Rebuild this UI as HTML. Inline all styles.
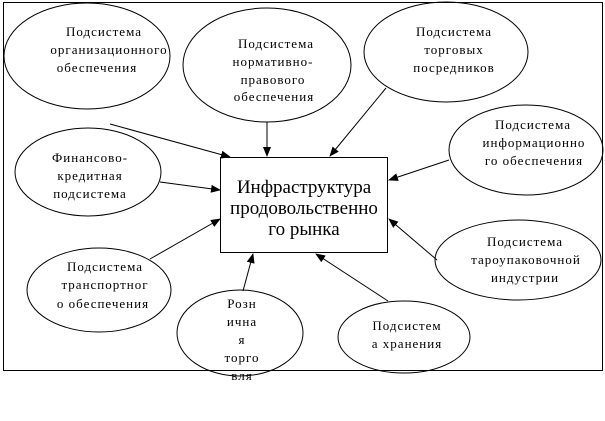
<!DOCTYPE html>
<html><head><meta charset="utf-8"><style>
html,body{margin:0;padding:0;background:#fff;}
svg{display:block;}
text{font-family:"Liberation Serif","DejaVu Serif",serif;font-size:13px;letter-spacing:1px;fill:#000;text-anchor:middle;}
.b{font-size:19px;letter-spacing:0;}
</style></head><body>
<svg width="605" height="421" viewBox="0 0 605 421" xmlns="http://www.w3.org/2000/svg">
<defs><marker id="a" markerWidth="10" markerHeight="8" refX="9" refY="4" orient="auto" markerUnits="userSpaceOnUse"><path d="M0,0 L10,4 L0,8 z" fill="#000"/></marker></defs>
<g fill="#fff" stroke="#000" stroke-width="1">
<ellipse cx="87" cy="56" rx="83" ry="53"/>
<ellipse cx="267" cy="65" rx="84" ry="57"/>
<ellipse cx="446" cy="52" rx="82" ry="50"/>
<ellipse cx="526" cy="150" rx="77" ry="45"/>
<ellipse cx="88" cy="172" rx="73" ry="44"/>
<ellipse cx="99" cy="290" rx="72" ry="42"/>
<ellipse cx="240" cy="333" rx="63" ry="43"/>
<ellipse cx="404" cy="337" rx="66" ry="36"/>
<ellipse cx="518" cy="260" rx="83" ry="40"/>
<rect x="220.5" y="157.5" width="167" height="95"/>
</g>
<g stroke="#000" stroke-width="1" marker-end="url(#a)">
<line x1="110" y1="124" x2="230" y2="157"/>
<line x1="267" y1="122" x2="267" y2="156"/>
<line x1="386" y1="88" x2="330" y2="156"/>
<line x1="449" y1="160" x2="389" y2="180"/>
<line x1="160" y1="182" x2="220" y2="190"/>
<line x1="150" y1="259" x2="220" y2="219"/>
<line x1="243" y1="291" x2="253" y2="254"/>
<line x1="388" y1="301" x2="316" y2="254"/>
<line x1="437" y1="260" x2="389" y2="219"/>
</g>
<text x="104" y="36">Подсистема</text>
<text x="109" y="54">организационного</text>
<text x="97" y="72">обеспечения</text>
<text x="276" y="48">Подсистема</text>
<text x="273" y="66">нормативно-</text>
<text x="273" y="84">правового</text>
<text x="274" y="101">обеспечения</text>
<text x="454" y="36">Подсистема</text>
<text x="454" y="54">торговых</text>
<text x="454" y="72">посредников</text>
<text x="533" y="129">Подсистема</text>
<text x="534" y="147">информационно</text>
<text x="534" y="165">го обеспечения</text>
<text x="90" y="162">Финансово-</text>
<text x="90" y="180">кредитная</text>
<text x="90" y="198">подсистема</text>
<text x="105" y="271">Подсистема</text>
<text x="105" y="289">транспортног</text>
<text x="103" y="308">о обеспечения</text>
<text x="242" y="308">Розн</text>
<text x="242" y="326">ична</text>
<text x="242" y="344">я</text>
<text x="242" y="362">торго</text>
<text x="242" y="380">вля</text>
<text x="407" y="330">Подсистем</text>
<text x="407" y="348">а хранения</text>
<text x="525" y="246">Подсистема</text>
<text x="526" y="264">тароупаковочной</text>
<text x="525" y="282">индустрии</text>
<text class="b" x="304" y="193">Инфраструктура</text>
<text class="b" x="304" y="214">продовольственно</text>
<text class="b" x="304" y="235">го рынка</text>
<rect x="3.5" y="2.5" width="599" height="368" fill="none" stroke="#000" stroke-width="1"/>
</svg>
</body></html>
